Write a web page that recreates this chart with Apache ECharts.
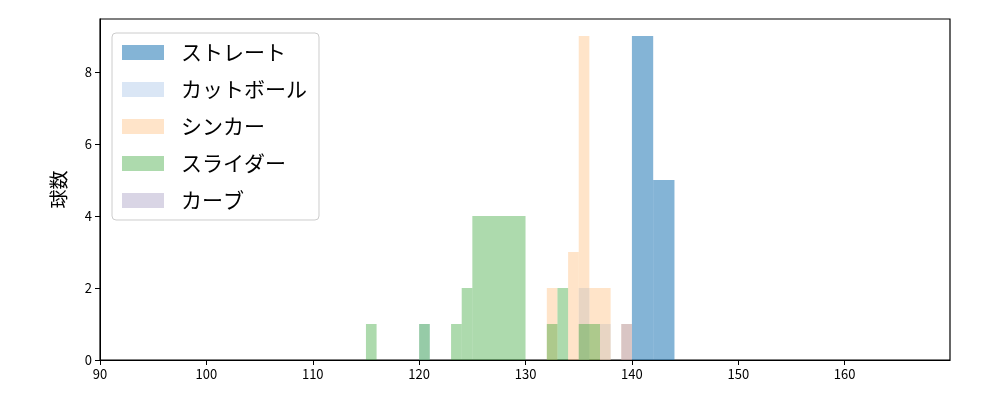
<!DOCTYPE html>
<html>
<head>
<meta charset="utf-8">
<script src="https://cdn.jsdelivr.net/npm/echarts@6/dist/echarts.min.js"></script>
<style>html,body{margin:0;padding:0;background:#fff}#c{width:1000px;height:400px}</style>
</head>
<body>
<div id="c"></div>
<script>
// bins: [start, end, count]
let straight = [[140, 142, 9], [142, 144, 5]];
let cutball = [[120, 121, 1], [135, 136, 2], [137, 138, 1]];
let sinker = [[132, 133, 2], [134, 135, 3], [135, 136, 9], [136, 137, 2], [137, 138, 2], [139, 140, 1]];
let slider = [[115, 116, 1], [120, 121, 1], [123, 124, 1], [124, 125, 2], [125, 130, 4], [132, 133, 1], [133, 134, 2], [135, 137, 1]];
let curve = [[139, 140, 1]];

let font = '"Noto Sans CJK JP", "DejaVu Sans", sans-serif';

function histSeries(name, data, color) {
  return {
    name: name,
    type: 'custom',
    itemStyle: {color: color},
    data: data,
    encode: {x: [0, 1], y: 2},
    renderItem: function (params, api) {
      let p0 = api.coord([api.value(0), 0]);
      let p1 = api.coord([api.value(1), api.value(2)]);
      return {
        type: 'rect',
        shape: {x: p0[0], y: p1[1], width: p1[0] - p0[0], height: p0[1] - p1[1]},
        style: {fill: color}
      };
    }
  };
}

let chart = echarts.init(document.getElementById('c'));
chart.setOption({
  animation: false,
  grid: {left: 100, right: 50, top: 19, bottom: 40, show: true, borderColor: '#000', borderWidth: 1.2, backgroundColor: 'transparent'},
  legend: {
    orient: 'vertical',
    left: 112, top: 33,
    icon: 'rect', itemWidth: 42, itemHeight: 15, itemGap: 16,
    padding: [9, 12, 9, 10],
    borderColor: '#ccc', borderWidth: 1, borderRadius: 4,
    textStyle: {fontSize: 21, fontFamily: font, color: '#000', padding: [0, 0, 0, 12]},
    data: ['ストレート', 'カットボール', 'シンカー', 'スライダー', 'カーブ']
  },
  xAxis: {
    type: 'value', min: 90, max: 169.9, interval: 10,
    axisLine: {show: true, lineStyle: {color: '#000'}},
    axisTick: {show: true, length: 5, lineStyle: {color: '#000'}},
    axisLabel: {fontSize: 13, color: '#000', fontFamily: font, showMaxLabel: false},
    splitLine: {show: false}
  },
  yAxis: {
    type: 'value', min: 0, max: 9.47, interval: 2,
    name: '球数', nameLocation: 'middle', nameGap: 32,
    nameTextStyle: {fontSize: 19, fontFamily: font, color: '#000'},
    axisLine: {show: true, lineStyle: {color: '#000'}},
    axisTick: {show: true, length: 5, lineStyle: {color: '#000'}},
    axisLabel: {fontSize: 13, color: '#000', fontFamily: font, showMaxLabel: false},
    splitLine: {show: false}
  },
  series: [
    histSeries('ストレート', straight, 'rgba(31,119,180,0.55)'),
    histSeries('カットボール', cutball, 'rgba(174,199,232,0.45)'),
    histSeries('シンカー', sinker, 'rgba(255,187,120,0.4)'),
    histSeries('スライダー', slider, 'rgba(44,160,44,0.39)'),
    histSeries('カーブ', curve, 'rgba(160,150,190,0.4)')
  ]
});
</script>
</body>
</html>
